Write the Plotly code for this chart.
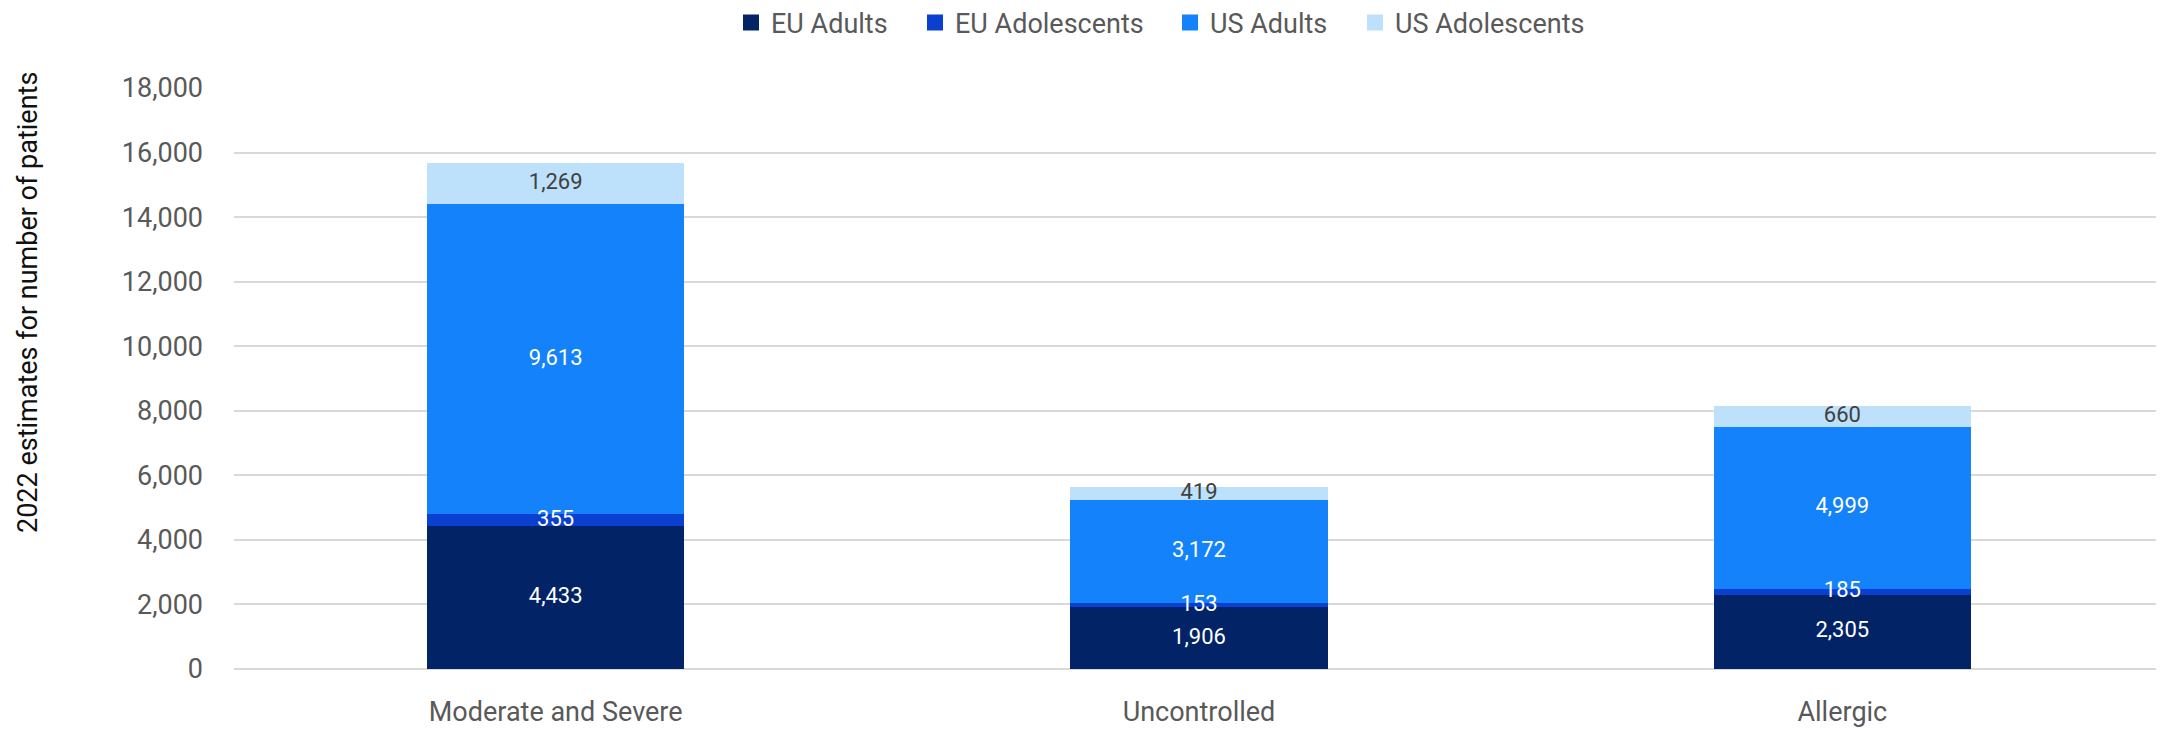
import plotly.graph_objects as go

categories = ["Moderate and Severe", "Uncontrolled", "Allergic"]
eu_adults = [4433, 1906, 2305]
eu_adolescents = [355, 153, 185]
us_adults = [9613, 3172, 4999]
us_adolescents = [1269, 419, 660]

series = [
    ("EU Adults", eu_adults, "#022366", "white"),
    ("EU Adolescents", eu_adolescents, "#0b3fcf", "white"),
    ("US Adults", us_adults, "#1482fb", "white"),
    ("US Adolescents", us_adolescents, "#bde1fb", "#404040"),
]

FONT = "Roboto, sans-serif"
W, H = 2156, 723  # page body has an 8px margin

# left edge of each legend entry (container px)
legend_x = [723, 907, 1162, 1347]

fig = go.Figure()
base = [0] * len(categories)
for i, (name, vals, color, txtcolor) in enumerate(series):
    fig.add_trace(go.Bar(
        x=categories,
        y=vals,
        name=name,
        showlegend=False,
        marker=dict(color=color, line=dict(width=0)),
        hoverinfo="x+y+name",
    ))
    # value labels as a text layer so they stay on top of the stack
    mids = [b + v / 2 for b, v in zip(base, vals)]
    fig.add_trace(go.Scatter(
        x=categories,
        y=mids,
        mode="text",
        text=[f"{v:,}" for v in vals],
        textposition="middle center",
        textfont=dict(family=FONT, size=22, color=txtcolor),
        showlegend=False,
        hoverinfo="skip",
    ))
    base = [b + v for b, v in zip(base, vals)]
    # legend entry with a bigger square swatch, one legend per entry
    lg = "legend" if i == 0 else f"legend{i + 1}"
    fig.add_trace(go.Scatter(
        x=[None], y=[None],
        mode="markers",
        name=name,
        legend=lg,
        marker=dict(symbol="square", size=20, color=color),
    ))

legend_style = dict(
    orientation="h",
    xref="container", yref="container",
    y=1 - 15 / H,
    xanchor="left", yanchor="middle",
    font=dict(family=FONT, size=27, color="#595959"),
    itemsizing="trace",
    bgcolor="rgba(0,0,0,0)",
)
legends = {}
for i, lx in enumerate(legend_x):
    key = "legend" if i == 0 else f"legend{i + 1}"
    legends[key] = dict(legend_style, x=lx / W)

fig.update_layout(
    width=W,
    height=H,
    barmode="stack",
    bargap=0.6,
    margin=dict(l=226, r=0, t=80, b=62),
    plot_bgcolor="white",
    paper_bgcolor="white",
    font=dict(family=FONT, size=27, color="#595959"),
    **legends,
)

fig.update_yaxes(
    range=[0, 18000],
    dtick=2000,
    tickformat=",",
    showgrid=True,
    gridcolor="#d9d9d9",
    gridwidth=2,
    zeroline=True,
    zerolinecolor="#d9d9d9",
    zerolinewidth=2,
    showline=False,
    ticks="",
    automargin=False,
    ticklabelstandoff=30,
    tickfont=dict(family=FONT, size=27, color="#595959"),
)
fig.update_xaxes(
    showgrid=False,
    showline=False,
    ticks="",
    automargin=False,
    ticklabelstandoff=24,
    tickfont=dict(family=FONT, size=27, color="#595959"),
)

fig.add_annotation(
    text="2022 estimates for number of patients",
    xref="paper", yref="paper",
    x=(28 - 234) / 1930, y=(669 - 303) / 581,
    xanchor="center", yanchor="middle",
    textangle=-90,
    showarrow=False,
    font=dict(family=FONT, size=27, color="#111111"),
)

fig.write_html("out.html")
